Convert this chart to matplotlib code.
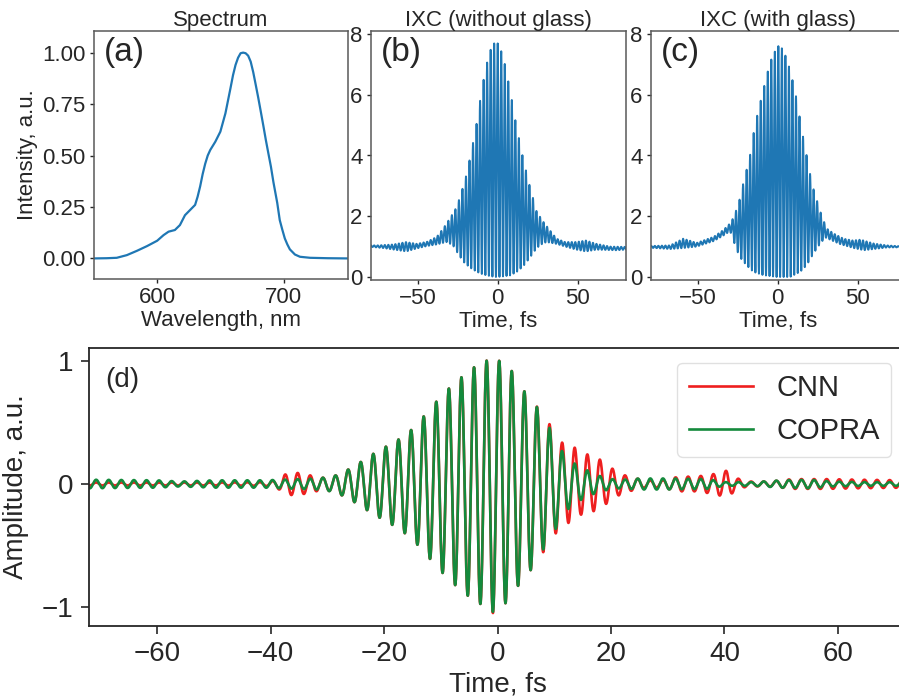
import numpy as np
import matplotlib
matplotlib.use("Agg")
import matplotlib.pyplot as plt

plt.rcParams['font.family'] = ['Liberation Sans', 'DejaVu Sans']
plt.rcParams['text.color'] = '.15'
plt.rcParams['axes.labelcolor'] = '.15'
plt.rcParams['xtick.color'] = '.15'
plt.rcParams['ytick.color'] = '.15'

# (a) spectrum
wl = [550, 560, 568, 576, 584, 592, 600, 605, 609, 614, 618, 622, 626, 630,
      632, 634, 636, 638, 640, 642, 646, 650, 654, 658, 660, 662, 664, 666,
      668, 670, 672, 674, 676, 678, 680, 682, 684, 686, 688, 690, 692, 695,
      697, 699, 701, 703, 705, 709, 713, 721, 735, 750]
spec = [0.0, 0.001, 0.003, 0.016, 0.037, 0.06, 0.086, 0.113, 0.13, 0.138,
        0.162, 0.21, 0.235, 0.26, 0.30, 0.35, 0.41, 0.46, 0.50, 0.527, 0.567,
        0.616, 0.705, 0.827, 0.89, 0.94, 0.975, 0.997, 1.0, 0.997, 0.985,
        0.956, 0.905, 0.843, 0.78, 0.713, 0.645, 0.575, 0.51, 0.446, 0.37,
        0.27, 0.186, 0.14, 0.097, 0.068, 0.044, 0.019, 0.008, 0.003, 0.001, 0.0]

# (b) IXC without glass: upper / lower fringe envelopes
b_up_t = [-79, -75, -65, -57, -50.4, -44, -38, -33.8, -29.7, -25.5, -20.3, -16.5,
          -13, -11, -9, -6.7, -4.6, -2.3, 0, 2.05, 4.3, 6.6, 8.9, 11.2, 15, 19,
          24.3, 28.4, 32.5, 36.7, 42, 49, 55, 61.6, 70, 80]
b_up = [1.04, 1.04, 1.07, 1.15, 1.09, 1.16, 1.32, 1.61, 1.94, 2.31, 3.19, 4.1,
        5.1, 5.8, 6.44, 7.04, 7.46, 7.69, 7.69, 7.46, 7.04, 6.44, 5.8, 5.1, 4.1,
        3.19, 2.15, 1.82, 1.54, 1.26, 1.15, 1.15, 1.2, 1.09, 1.0, 0.99]
b_lo_t = [-79, -71, -57, -50.4, -44, -38, -32, -28, -25.5, -21.4, -17.3, -13, -9,
          -4, -1.1, 2, 7.6, 11.7, 15.9, 20, 23.2, 26.3, 30.4, 36.6, 42.8, 49, 55,
          61.6, 74, 80]
b_lo = [0.99, 0.95, 0.84, 0.94, 1.02, 1.07, 1.15, 1.05, 0.83, 0.5, 0.31, 0.17,
        0.08, 0.02, 0.0, 0.01, 0.05, 0.16, 0.35, 0.63, 0.87, 1.05, 1.15, 1.09,
        0.99, 0.9, 0.84, 0.9, 0.88, 0.9]

# (c) IXC with glass
c_up_t = [-79, -67, -59, -55, -50.6, -40, -34, -29, -27.8, -24.6, -21, -17.4,
          -14.3, -11.2, -8, -4.9, -2.4, 0.4, 2.5, 5.6, 8.7, 11.9, 15, 18.2, 21.3,
          24.4, 27.6, 30.7, 34.9, 41.1, 47, 51.6, 60, 68, 76.5, 80]
c_up = [1.02, 1.04, 1.26, 1.2, 1.12, 1.32, 1.54, 1.8, 1.95, 2.36, 3.19, 3.96,
        4.97, 5.67, 6.38, 7.04, 7.37, 7.6, 7.54, 7.2, 6.6, 5.83, 4.84, 3.96,
        3.08, 2.53, 1.98, 1.59, 1.43, 1.26, 1.2, 1.23, 1.1, 1.04, 1.01, 1.0]
c_lo_t = [-79, -67, -59, -50.6, -40, -34, -30, -28.5, -26.7, -23.6, -19.4, -15.2,
          -9, -0.6, 7.7, 14, 18, 22.3, 26.5, 29.7, 33, 39, 47.5, 53.8, 60, 68, 80]
c_lo = [0.96, 0.92, 0.95, 1.0, 1.18, 1.36, 1.5, 1.4, 1.04, 0.65, 0.38, 0.17,
        0.06, 0.0, 0.0, 0.17, 0.38, 0.77, 1.1, 1.3, 1.22, 1.08, 0.95, 0.88,
        0.92, 0.97, 0.98]

ixc_period = 2.2   # fs, fringe spacing
b_peak, c_peak = 0.0, 0.4

# (d) field envelopes, |amplitude|
copra_t = [-72, -60, -56, -50, -45, -41, -38, -35, -32, -30, -28.5, -26.6, -24.4,
           -22.1, -19.8, -17.5, -15.2, -13, -10.6, -8.5, -6.3, -4.1, -2, -0.8,
           0.35, 1.4, 2.5, 3.6, 4.6, 5.7, 6.8, 7.8, 9, 10, 11.2, 12.3, 13.5, 14.7,
           15.9, 17, 18.4, 20, 22, 25, 30, 37, 40, 45, 50, 55, 59, 65, 72]
copra = [0.035, 0.03, 0.02, 0.03, 0.03, 0.03, 0.035, 0.04, 0.045, 0.055, 0.07,
         0.11, 0.17, 0.24, 0.30, 0.36, 0.44, 0.55, 0.68, 0.78, 0.87, 0.95, 1.0,
         1.04, 1.0, 0.97, 0.92, 0.83, 0.76, 0.71, 0.64, 0.55, 0.47, 0.39, 0.28,
         0.21, 0.17, 0.13, 0.11, 0.08, 0.06, 0.04, 0.035, 0.045, 0.045, 0.04,
         0.015, 0.015, 0.03, 0.035, 0.02, 0.015, 0.015]
cnn_t = [-72, -50, -41, -39, -37, -35, -33, -31, -29, -28.5, -26.6, -24.4, -22.1,
         -19.8, -17.5, -15.2, -13, -10.6, -8.5, -6.3, -4.1, -2, -0.8, 0.35, 1.4,
         2.5, 3.6, 4.6, 5.7, 6.8, 7.8, 9, 10, 11.2, 12.3, 13.5, 14.7, 15.9, 17,
         18, 19.5, 21, 22.5, 24, 26, 29, 32, 35, 38, 40.5, 42, 44, 48, 52, 58,
         64, 72]
cnn = [0.012, 0.012, 0.015, 0.03, 0.09, 0.09, 0.07, 0.05, 0.06, 0.07, 0.11,
       0.17, 0.24, 0.30, 0.36, 0.44, 0.55, 0.68, 0.78, 0.87, 0.95, 1.0, 1.05,
       1.0, 0.97, 0.92, 0.83, 0.76, 0.71, 0.64, 0.57, 0.5, 0.42, 0.34, 0.32,
       0.3, 0.25, 0.24, 0.22, 0.2, 0.15, 0.1, 0.07, 0.05, 0.03, 0.03, 0.06,
       0.06, 0.08, 0.11, 0.05, 0.02, 0.02, 0.04, 0.04, 0.035, 0.03]
field_period = 2.22
field_peak = 0.3


W, H = 899, 698
fig = plt.figure(figsize=(W / 100, H / 100), dpi=100)


def box(l, t, r, b):
    return [l / W, 1 - b / H, (r - l) / W, (b - t) / H]


ax_a = fig.add_axes(box(94, 31, 348, 279))
ax_b = fig.add_axes(box(371, 31, 626, 280))
ax_c = fig.add_axes(box(651, 31, 906, 280))
ax_d = fig.add_axes(box(89, 348, 906, 626))

blue = '#1f77b4'

ax_a.plot(wl, spec, color=blue, lw=1.6)
ax_a.set_xlim(550, 751)
ax_a.set_ylim(-0.1, 1.105)
ax_a.set_xticks([600, 700])
ax_a.set_yticks([0, 0.25, 0.5, 0.75, 1.0])
ax_a.set_yticklabels(['0.00', '0.25', '0.50', '0.75', '1.00'])
ax_a.set_title('Spectrum', fontsize=16, pad=3)
ax_a.set_xlabel('Wavelength, nm', fontsize=16, labelpad=1)
ax_a.set_ylabel('Intensity, a.u.', fontsize=16, labelpad=3)

t_ixc = np.arange(-80, 80.01, 0.05)
for ax, ut, u, lt, lo, pk, title, tag in [
        (ax_b, b_up_t, b_up, b_lo_t, b_lo, b_peak, 'IXC (without glass)', '(b)'),
        (ax_c, c_up_t, c_up, c_lo_t, c_lo, c_peak, 'IXC (with glass)', '(c)')]:
    up = np.interp(t_ixc, ut, u)
    low = np.interp(t_ixc, lt, lo)
    sig = (up + low) / 2 + (up - low) / 2 * np.cos(2 * np.pi * (t_ixc - pk) / ixc_period)
    ax.plot(t_ixc, sig, color=blue, lw=1.4)
    ax.set_xlim(-79, 80)
    ax.set_ylim(-0.1, 8.1)
    ax.set_xticks([-50, 0, 50])
    ax.set_yticks([0, 2, 4, 6, 8])
    ax.set_title(title, fontsize=16, pad=3)
    ax.set_xlabel('Time, fs', fontsize=16, labelpad=1)
    ax.text(0.04, 0.975, tag, transform=ax.transAxes, fontsize=24, va='top', ha='left')

ax_a.text(0.04, 0.975, '(a)', transform=ax_a.transAxes, fontsize=24, va='top', ha='left')

for ax in [ax_a, ax_b, ax_c]:
    ax.tick_params(labelsize=16, length=3, width=1, pad=3)
    for s in ax.spines.values():
        s.set_color('.35')
        s.set_linewidth(1.1)

t_d = np.arange(-72, 72.01, 0.02)
carrier = np.cos(2 * np.pi * (t_d - field_peak) / field_period)
ax_d.plot(t_d, np.interp(t_d, cnn_t, cnn) * carrier, color='#ee1f1f', lw=1.9, label='CNN')
ax_d.plot(t_d, np.interp(t_d, copra_t, copra) * carrier, color='#148a3c', lw=1.9, label='COPRA')
ax_d.set_xlim(-72, 72)
ax_d.set_ylim(-1.155, 1.106)
ax_d.set_xticks([-60, -40, -20, 0, 20, 40, 60])
ax_d.set_yticks([-1, 0, 1])
ax_d.set_xlabel('Time, fs', fontsize=20, labelpad=3)
ax_d.set_ylabel('Amplitude, a.u.', fontsize=20, labelpad=9)
ax_d.tick_params(labelsize=20, length=6, width=1.2, pad=5)
for s in ax_d.spines.values():
    s.set_color('.15')
    s.set_linewidth(1.3)
ax_d.text(0.02, 0.93, '(d)', transform=ax_d.transAxes, fontsize=20, va='top', ha='left')
ax_d.legend(loc='upper right', fontsize=21, edgecolor='0.85', handlelength=2.2)

fig.savefig('out.png', dpi=100)
